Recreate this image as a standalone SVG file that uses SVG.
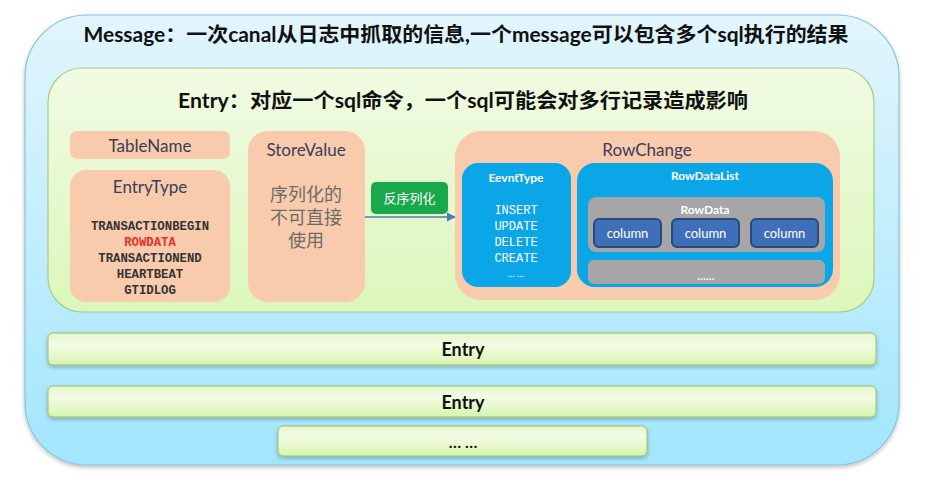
<svg xmlns="http://www.w3.org/2000/svg" width="936" height="489" viewBox="0 0 936 489">
<defs>
<linearGradient id="gMsg" x1="0" y1="0" x2="0" y2="1">
<stop offset="0" stop-color="#e2f5fc"/>
<stop offset="1" stop-color="#a2e6fd"/>
</linearGradient>
<linearGradient id="gEntry" x1="0" y1="0" x2="0" y2="1">
<stop offset="0" stop-color="#f1fbe3"/>
<stop offset="1" stop-color="#dcf6bb"/>
</linearGradient>
<linearGradient id="gBar" x1="0" y1="0" x2="0" y2="1">
<stop offset="0" stop-color="#e2f7c8"/>
<stop offset="0.35" stop-color="#f3fce6"/>
<stop offset="1" stop-color="#d8f4ae"/>
</linearGradient>
<filter id="sh" x="-5%" y="-5%" width="110%" height="120%">
<feDropShadow dx="0" dy="2" stdDeviation="2" flood-color="#000" flood-opacity="0.25"/>
</filter>
<marker id="arr" viewBox="0 0 10 10" refX="9" refY="5" markerWidth="7" markerHeight="7" orient="auto">
<path d="M0,0 L10,5 L0,10 z" fill="#4a7ebb"/>
</marker>
<style>
.t{font-family:"Lato","Noto Sans CJK SC",sans-serif;text-anchor:middle}
.title{font-size:20px;font-weight:bold;fill:#111}
.hd{font-size:17px;fill:#3a3d5c}
.mono{font-family:"Liberation Mono","DejaVu Sans Mono",monospace;font-weight:bold;font-size:12.3px;text-anchor:middle;fill:#333}
.wmono{font-family:"Liberation Mono","DejaVu Sans Mono",monospace;font-size:12px;text-anchor:middle;fill:#fff}
.wb{font-size:12px;font-weight:bold;fill:#fff}
.peach{fill:#f8cbad}
.blue{fill:#0ba6e8}
.gray{fill:#a6a6a6}
.col{fill:#3f6fb8;stroke:#2a4a7c;stroke-width:2}
.bar{fill:url(#gBar);stroke:#9fbe6a;stroke-width:1}
</style>
</defs>

<g id="message">
<rect x="25" y="15" width="874" height="450" rx="62" ry="62" fill="url(#gMsg)" stroke="#86c3dc" stroke-width="1.2" filter="url(#sh)"/>
<text class="t title" x="466" y="42" textLength="765" lengthAdjust="spacingAndGlyphs">Message：一次canal从日志中抓取的信息,一个message可以包含多个sql执行的结果</text>
</g>

<g id="entry-main">
<rect x="48" y="68" width="826" height="244" rx="34" ry="34" fill="url(#gEntry)" stroke="#a9cc80" stroke-width="1.2"/>
<text class="t title" x="463" y="108" textLength="570" lengthAdjust="spacingAndGlyphs">Entry：对应一个sql命令，一个sql可能会对多行记录造成影响</text>
</g>

<g id="tablename">
<rect class="peach" x="70" y="131" width="160" height="28" rx="7"/>
<text class="t hd" x="150" y="152">TableName</text>
</g>

<g id="entrytype">
<rect class="peach" x="70" y="170" width="160" height="132" rx="16"/>
<text class="t hd" x="150" y="193">EntryType</text>
<text class="mono" x="150" y="229.5">TRANSACTIONBEGIN</text>
<text class="mono" x="150" y="245.5" fill="#e8302a" style="fill:#e8302a">ROWDATA</text>
<text class="mono" x="150" y="261.5">TRANSACTIONEND</text>
<text class="mono" x="150" y="277.5">HEARTBEAT</text>
<text class="mono" x="150" y="293.5">GTIDLOG</text>
</g>

<g id="storevalue">
<rect class="peach" x="248" y="131" width="117" height="171" rx="20"/>
<text class="t hd" x="306" y="156">StoreValue</text>
<text class="t" x="306" y="201" style="font-size:18px;fill:#6b6b6b">序列化的</text>
<text class="t" x="306" y="224" style="font-size:18px;fill:#6b6b6b">不可直接</text>
<text class="t" x="306" y="247" style="font-size:18px;fill:#6b6b6b">使用</text>
</g>

<g id="connectors">
<line x1="365" y1="217" x2="455" y2="217" stroke="#4a7ebb" stroke-width="1.3" marker-end="url(#arr)"/>
</g>

<g id="deserialize">
<rect x="371" y="182" width="77" height="32" rx="5" fill="#19a84b"/>
<text class="t" x="409.5" y="203" style="font-size:13px;fill:#fff">反序列化</text>
</g>

<g id="rowchange">
<rect class="peach" x="455" y="131" width="385" height="169" rx="26"/>
<text class="t hd" x="647" y="156">RowChange</text>
</g>

<g id="eventtype">
<rect class="blue" x="462" y="163" width="109" height="124" rx="16"/>
<text class="t wb" x="516" y="182">EevntType</text>
<text class="wmono" x="516" y="214">INSERT</text>
<text class="wmono" x="516" y="230">UPDATE</text>
<text class="wmono" x="516" y="246">DELETE</text>
<text class="wmono" x="516" y="262">CREATE</text>
<text class="t" x="516" y="277" style="font-size:9px;fill:#fff">… …</text>
</g>

<g id="rowdatalist">
<rect class="blue" x="577" y="163" width="256" height="124" rx="18"/>
<text class="t wb" x="705" y="180">RowDataList</text>
</g>

<g id="rowdata">
<rect class="gray" x="588" y="197" width="237" height="55" rx="8"/>
<text class="t wb" x="705" y="214">RowData</text>
</g>

<g id="column1">
<rect class="col" x="594" y="219" width="67" height="28" rx="5"/>
<text class="t" x="627.5" y="238" style="font-size:13px;fill:#fff">column</text>
</g>
<g id="column2">
<rect class="col" x="672" y="219" width="67" height="28" rx="5"/>
<text class="t" x="705.5" y="238" style="font-size:13px;fill:#fff">column</text>
</g>
<g id="column3">
<rect class="col" x="751" y="219" width="67" height="28" rx="5"/>
<text class="t" x="784.5" y="238" style="font-size:13px;fill:#fff">column</text>
</g>

<g id="rowdata-more">
<rect class="gray" x="588" y="260" width="237" height="24" rx="6"/>
<text class="t" x="706" y="280" style="font-size:11px;font-weight:bold;fill:#fff">……</text>
</g>

<g id="entry2">
<rect class="bar" x="48" y="333" width="828" height="32" rx="5" filter="url(#sh)"/>
<text class="t" x="463" y="356" style="font-size:18px;font-weight:bold;fill:#111">Entry</text>
</g>
<g id="entry3">
<rect class="bar" x="48" y="386" width="828" height="31" rx="5" filter="url(#sh)"/>
<text class="t" x="463" y="409" style="font-size:18px;font-weight:bold;fill:#111">Entry</text>
</g>
<g id="entry-more">
<rect class="bar" x="278" y="426" width="369" height="30" rx="5" filter="url(#sh)"/>
<text class="t" x="463" y="448" style="font-size:16px;font-weight:bold;fill:#111">… …</text>
</g>
</svg>
